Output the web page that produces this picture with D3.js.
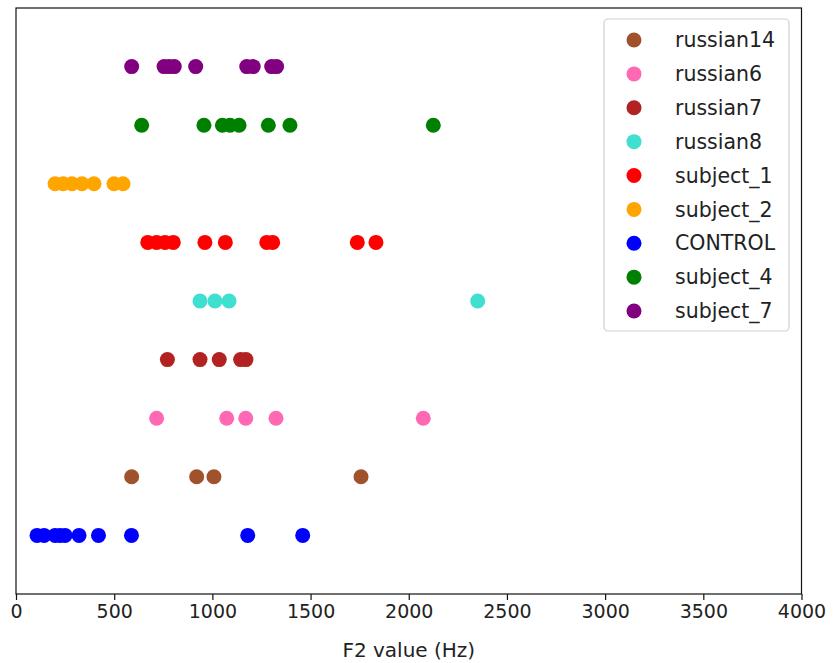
<!DOCTYPE html>
<html>
<head>
<meta charset="utf-8">
<script src="https://cdn.jsdelivr.net/npm/d3@7"></script>
<style>
  body { margin: 0; background: #fff; }
  svg { display: block; }
  text { font-family: "DejaVu Sans", sans-serif; fill: #222; }
</style>
</head>
<body>
<svg id="chart" width="835" height="663"></svg>
<script>
// Rows (bottom to top)
const rows = ["CONTROL", "russian14", "russian6", "russian7", "russian8", "subject_1", "subject_2", "subject_4", "subject_7"];
// Legend order
const legendOrder = ["russian14", "russian6", "russian7", "russian8", "subject_1", "subject_2", "CONTROL", "subject_4", "subject_7"];
const colors = {
  russian14: "#a0522d", russian6: "#ff69b4", russian7: "#b22222", russian8: "#40e0d0",
  subject_1: "#ff0000", subject_2: "#ffa500", CONTROL: "#0000ff", subject_4: "#008000", subject_7: "#800080"
};
// F2 values (Hz)
const CONTROL   = [107, 143, 199, 224, 250, 321, 420, 588, 1180, 1460];
const russian14 = [589, 920, 1008, 1757];
const russian6  = [716, 1073, 1170, 1324, 2074];
const russian7  = [771, 937, 1035, 1144, 1171];
const russian8  = [937, 1013, 1085, 2351];
const subject_1 = [671, 716, 759, 801, 962, 1066, 1277, 1307, 1738, 1833];
const subject_2 = [199, 240, 285, 336, 397, 499, 545];
const subject_4 = [640, 957, 1051, 1090, 1136, 1285, 1395, 2125];
const subject_7 = [589, 754, 779, 806, 915, 1175, 1208, 1302, 1327];
const xTicks = [0, 500, 1000, 1500, 2000, 2500, 3000, 3500, 4000];

const series = { CONTROL, russian14, russian6, russian7, russian8, subject_1, subject_2, subject_4, subject_7 };

const svg = d3.select("#chart");
const L = 16, R = 801.5, T = 8, B = 594;

const x = d3.scaleLinear().domain([0, 4000]).range([L, R]);
const y = d3.scalePoint().domain(rows).range([B, T]).padding(1);

// points
const pts = [];
rows.forEach(r => series[r].forEach(v => pts.push({ r, v })));
svg.append("g").selectAll("circle").data(pts).join("circle")
  .attr("cx", d => x(d.v))
  .attr("cy", d => y(d.r))
  .attr("r", 7.5)
  .attr("fill", d => colors[d.r]);

// frame
svg.append("rect").attr("x", L).attr("y", T).attr("width", R - L).attr("height", B - T)
  .attr("fill", "none").attr("stroke", "#111").attr("stroke-width", 1.2);

// x axis
const xAxis = d3.axisBottom(x).tickValues(xTicks).tickSize(6).tickPadding(5).tickFormat(d3.format("d"));
const gx = svg.append("g").attr("transform", `translate(0,${B})`).call(xAxis);
gx.select(".domain").remove();
gx.selectAll(".tick line").attr("stroke", "#111").attr("stroke-width", 1.2);
gx.selectAll(".tick text").style("font-size", "19px").style("font-family", "DejaVu Sans, sans-serif").attr("fill", "#222");

svg.append("text").attr("x", (L + R) / 2).attr("y", 657).attr("text-anchor", "middle")
  .style("font-size", "20px").text("F2 value (Hz)");

// legend
const lg = svg.append("g");
lg.append("rect").attr("x", 604).attr("y", 19).attr("width", 185).attr("height", 312)
  .attr("rx", 4).attr("fill", "#fff").attr("fill-opacity", 0.8).attr("stroke", "#d0d0d0").attr("stroke-width", 1.2);
const ly = d3.scalePoint().domain(legendOrder).range([40, 311]);
legendOrder.forEach(k => {
  lg.append("circle").attr("cx", 634).attr("cy", ly(k)).attr("r", 7.5).attr("fill", colors[k]);
  lg.append("text").attr("x", 675).attr("y", ly(k)).attr("dy", "0.35em")
    .style("font-size", "20.5px").text(k);
});
</script>
</body>
</html>
